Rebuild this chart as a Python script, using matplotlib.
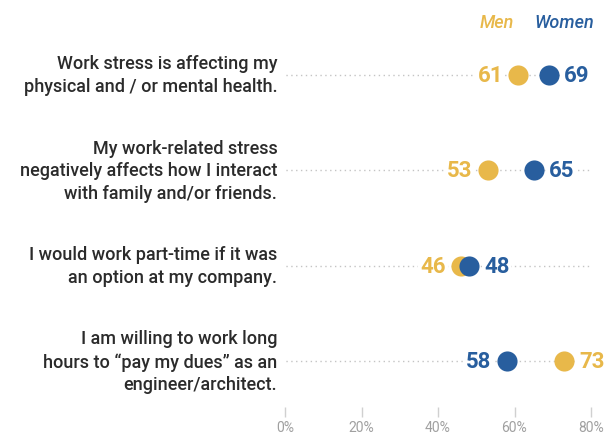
import matplotlib.pyplot as plt

# ── Survey data ────────────────────────────────────────────
statements = [
    "Work stress is affecting my\nphysical and / or mental health.",
    "My work-related stress\nnegatively affects how I interact\nwith family and/or friends.",
    "I would work part-time if it was\nan option at my company.",
    "I am willing to work long\nhours to \u201cpay my dues\u201d as an\nengineer/architect.",
]
men = [61, 53, 46, 73]
women = [69, 65, 48, 58]
ticks = [0, 20, 40, 60, 80]

MEN_C = '#E8B84A'
WOMEN_C = '#285E9E'
TEXT_C = '#2b2b2b'

plt.rcParams['font.family'] = ['Roboto', 'DejaVu Sans']

fig = plt.figure(figsize=(6.14, 4.39), dpi=100)
W, H = 614, 439
ax = fig.add_axes([285 / W, 1 - 408 / H, (591 - 285) / W, (408 - 28) / H])

rows = list(range(len(statements)))

for i in rows:
    ax.plot([-1, 80], [i, i], color='#c4c4c4', lw=1, ls=(0, (1, 2.5)), zorder=1)

ax.scatter(men, rows, s=210, color=MEN_C, zorder=3, clip_on=False, linewidths=0)
ax.scatter(women, rows, s=210, color=WOMEN_C, zorder=4, clip_on=False, linewidths=0)

box = dict(facecolor='white', edgecolor='none', pad=1.5)
for i, (m, w) in enumerate(zip(men, women)):
    # put each value label on the outer side of its dot
    m_left = m <= w
    ax.annotate(str(m), (m, i), xytext=(-11 if m_left else 11, 0),
                textcoords='offset points', ha='right' if m_left else 'left',
                va='center', color=MEN_C, fontsize=16, fontweight='bold',
                bbox=box, zorder=2)
    ax.annotate(str(w), (w, i), xytext=(11 if m_left else -11, 0),
                textcoords='offset points', ha='left' if m_left else 'right',
                va='center', color=WOMEN_C, fontsize=16, fontweight='bold',
                bbox=box, zorder=2)
    ax.text(-2.0, i, statements[i], ha='right', va='center', color=TEXT_C,
            fontsize=13, fontweight='medium', linespacing=1.32)

ax.set_xlim(0, 80)
ax.set_ylim(3.48, -0.5)
ax.set_xticks(ticks)
ax.set_xticklabels([f"{t}%" for t in ticks])
ax.set_yticks([])
ax.tick_params(axis='x', length=7.5, width=1, color='#d0d0d0', labelcolor='#a0a0a0',
               labelsize=10, pad=2)
for s in ax.spines.values():
    s.set_visible(False)

# ── Legend ─────────────────────────────────────────────────
fig.text(497 / W, 1 - 23 / H, "Men", color=MEN_C, fontsize=13,
         fontstyle='italic', fontweight='medium', ha='center', va='center')
fig.text(564 / W, 1 - 23 / H, "Women", color=WOMEN_C, fontsize=13,
         fontstyle='italic', fontweight='medium', ha='center', va='center')

fig.savefig('out.png', dpi=100, facecolor='white')
